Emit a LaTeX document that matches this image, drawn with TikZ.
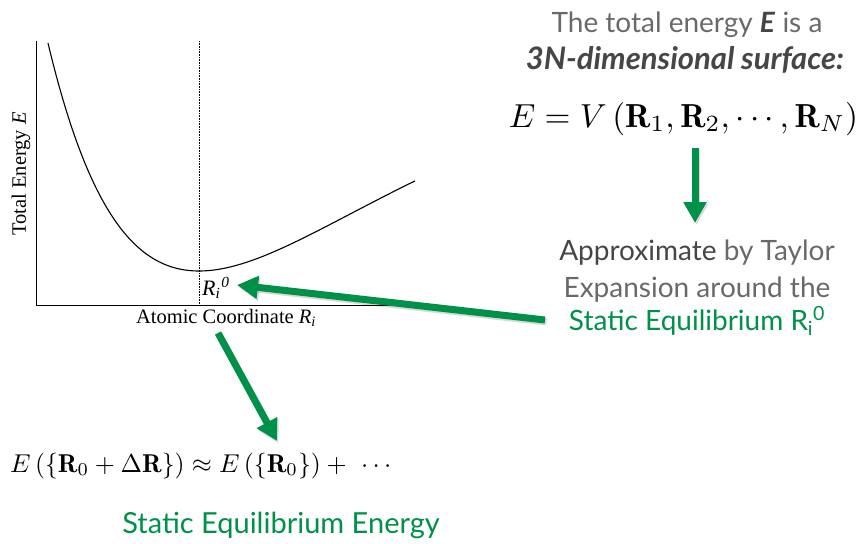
\documentclass[tikz,border=0pt]{standalone}
\usepackage{graphicx}
\usepackage{fontspec}
\usetikzlibrary{arrows.meta}
\newfontfamily\gill{Lato}
\newfontfamily\tms{Liberation Serif}
\definecolor{eqgreen}{RGB}{0,145,72}
\definecolor{txtgrey}{RGB}{105,105,105}
\definecolor{darkgrey}{RGB}{70,70,70}
\tikzset{
  garrow/.style={draw=eqgreen, line width=7pt, -{Triangle[width=22pt,length=21pt]}, fill=eqgreen},
  gshadow/.style={draw=black, opacity=0.15, line width=7pt, -{Triangle[width=22pt,length=21pt]}},
  serif/.style={font=\tms\fontsize{20.5}{24}\selectfont, inner sep=0pt},
  sans/.style={font=\gill\fontsize{28}{33}\selectfont, text=txtgrey, inner sep=0pt, anchor=base},
  bigmath/.style={font=\fontsize{10}{12}\selectfont, inner sep=0pt, anchor=base},
}
\begin{document}
\begin{tikzpicture}[x=1pt,y=-1pt]
\useasboundingbox (0,0) rectangle (861,543);
% axes
\draw[line width=1.2pt] (36.5,41) -- (36.5,305.5) -- (415,305.5);
\draw[densely dotted, line width=0.6pt] (199,41) -- (199,305);
\draw[line width=1.1pt] plot[domain=48:415, samples=120, smooth] (\x, {271-227.6*(1-exp(-0.0046*(\x-199)))^2});
% axis labels
\node[serif, rotate=90] (ylab) at (21,174) {Total Energy \textit{E}};
\node[serif, anchor=base] (xlab) at (226,323) {Atomic Coordinate \textit{R}\textsubscript{\textit{i}}};
\node[serif, anchor=base west, font=\tms\fontsize{22}{26}\selectfont] (r0) at (202,295) {\textit{R}\textsubscript{\textit{i}}\textsuperscript{\kern1pt\textit{0}}};
% right texts
\node[sans] (t1) at (687,33) {The total energy {\color{darkgrey}\textbf{\textit{E}}} is a};
\node[sans, text=darkgrey, font=\gill\fontsize{31}{36}\selectfont] (t2) at (685,70) {\textbf{\textit{3N-dimensional surface:}}};
\node[bigmath] (eq1) at (683.5,127) {\scalebox{3.33}{$E=V\left(\mathbf{R}_1,\mathbf{R}_2,\cdots,\mathbf{R}_N\right)$}};
\node[sans] (t3) at (697,260) {{\color{darkgrey}Approximate} by Taylor};
\node[sans] (t4) at (697,297) {Expansion around the};
\node[sans, text=eqgreen] (t5) at (697,330) {Static Equilibrium R\textsubscript{i}\textsuperscript{0}};
\node[bigmath, anchor=base west] (eq2) at (10,472) {\scalebox{2.58}{$E\left(\{\mathbf{R}_0+\Delta\mathbf{R}\}\right)\approx E\left(\{\mathbf{R}_0\}\right)+\ \cdots$}};
\node[sans, text=eqgreen, font=\gill\fontsize{29}{34}\selectfont] (t6) at (281,533) {Static Equilibrium Energy};
% arrow end points
\coordinate (a1s) at (695,148);
\coordinate (a1e) at (695,223);
\coordinate (a2s) at (545,320);
\coordinate (a2e) at (237,285);
\coordinate (a3s) at (218,333);
\coordinate (a3e) at (277,441);
% shadows
\foreach \s/\e in {a1s/a1e,a2s/a2e,a3s/a3e}{
  \draw[gshadow, transform canvas={shift={(1.5pt,-2pt)}}] (\s) -- (\e);
}
\draw[garrow] (a1s) -- (a1e);
\draw[garrow] (a2s) -- (a2e);
\draw[garrow] (a3s) -- (a3e);
\end{tikzpicture}
\end{document}
